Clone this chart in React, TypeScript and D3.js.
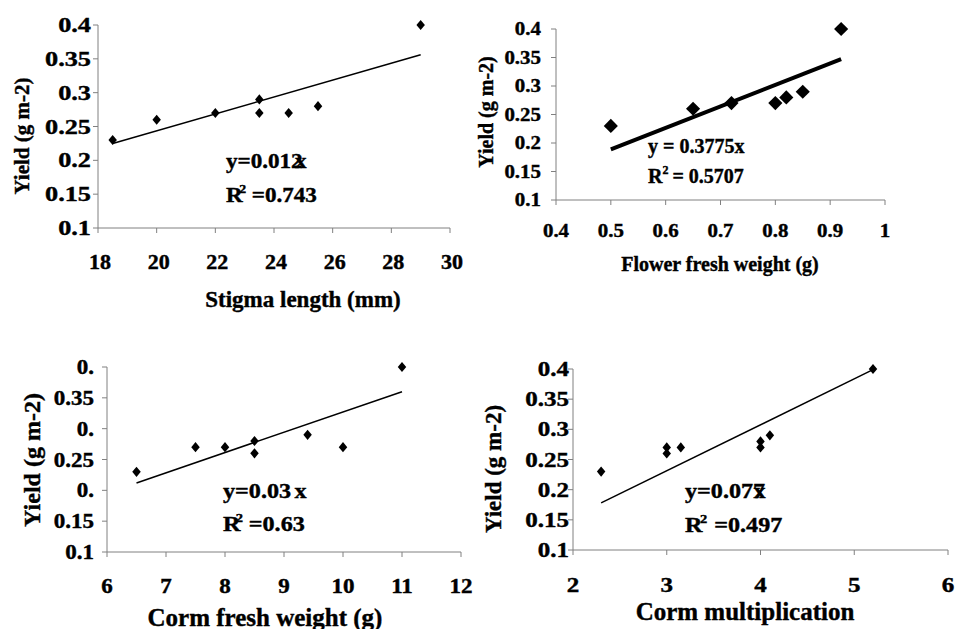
import React from 'react';
import * as d3 from 'd3';

const W = 955;
const H = 629;
const FONT = 'Liberation Serif';
const AXIS = '#808080';

// stigma length vs yield
const stigmaLength = [18.5, 20, 22, 23.5, 23.5, 24.5, 25.5, 29];
const stigmaYield = [0.23, 0.26, 0.27, 0.29, 0.27, 0.27, 0.28, 0.4];
const stigmaFit = [[18.5, 0.225], [29, 0.356]];
const stigmaTicks = [18, 20, 22, 24, 26, 28, 30];

// flower fresh weight vs yield
const flowerWeight = [0.5, 0.65, 0.72, 0.8, 0.82, 0.85, 0.92];
const flowerYield = [0.23, 0.26, 0.27, 0.27, 0.28, 0.29, 0.4];
const flowerFit = [[0.5, 0.189], [0.92, 0.347]];
const flowerTicks = [0.4, 0.5, 0.6, 0.7, 0.8, 0.9, 1];

// corm fresh weight vs yield
const cormWeight = [6.5, 7.5, 8, 8.5, 8.5, 9.4, 10, 11];
const cormYield = [0.23, 0.27, 0.27, 0.28, 0.26, 0.29, 0.27, 0.4];
const cormFit = [[6.5, 0.212], [11, 0.36]];
const cormTicks = [6, 7, 8, 9, 10, 11, 12];

// corm multiplication vs yield
const multiplication = [2.3, 3, 3, 3.15, 4, 4, 4.1, 5.2];
const multYield = [0.23, 0.26, 0.27, 0.27, 0.27, 0.28, 0.29, 0.4];
const multFit = [[2.3, 0.178], [5.2, 0.399]];
const multTicks = [2, 3, 4, 5, 6];

const yTicks = [0.1, 0.15, 0.2, 0.25, 0.3, 0.35, 0.4];
const yTickLabels = ['0.1', '0.15', '0.2', '0.25', '0.3', '0.35', '0.4'];
const yTickLabelsCut = ['0.1', '0.15', '0.', '0.25', '0.', '0.35', '0.'];

const Txt = ({x, y, size, sx = 1, anchor = 'start', rotate = 0, children}: any) => (
  <text
    transform={`translate(${x},${y}) rotate(${rotate}) scale(${sx},1)`}
    style={{fontFamily: FONT, fontWeight: 700, fontSize: size + 'px'}}
    textAnchor={anchor}
    fill="#000"
    stroke="#000"
    strokeWidth={0.4}>
    {children}
  </text>
);

const Panel = ({p}: any) => {
  const x = d3.scaleLinear().domain(d3.extent(p.xTicks) as any).range([p.left, p.right]);
  const y = d3.scaleLinear().domain([0.1, 0.4]).range([p.bottom, p.top]);
  const line = d3.line<number[]>().x(d => x(d[0])).y(d => y(d[1]));
  const sym = d3.symbol(d3.symbolSquare, p.markSize)();
  return (
    <g>
      <line x1={p.left} x2={p.left} y1={p.top} y2={p.bottom} stroke={AXIS} />
      <line x1={p.left} x2={p.right} y1={p.bottom} y2={p.bottom} stroke={AXIS} />
      {yTicks.map((t, i) => (
        <g key={'y' + i}>
          <line x1={p.left - 5} x2={p.left} y1={y(t)} y2={y(t)} stroke={AXIS} />
          <Txt x={p.left - p.yLabGap} y={y(t) + p.yLabDy} size={p.yTickSize} sx={p.ySx} anchor="end">
            {p.yLabels[i]}
          </Txt>
        </g>
      ))}
      {p.xTicks.map((t: number, i: number) => (
        <g key={'x' + i}>
          <line x1={x(t)} x2={x(t)} y1={p.bottom} y2={p.bottom + 5} stroke={AXIS} />
          <Txt x={x(t) + p.xLabDx} y={p.bottom + p.xLabDy} size={p.tickSize} sx={p.xSx} anchor="middle">
            {String(t)}
          </Txt>
        </g>
      ))}
      <path d={line(p.fit) as string} fill="none" stroke="#000" strokeWidth={p.lineW} />
      {p.xs.map((v: number, i: number) => (
        <path
          key={'m' + i}
          d={sym as string}
          transform={`translate(${x(v)},${y(p.ys[i])}) scale(1,${p.markTall}) rotate(45)`}
          fill="#000"
        />
      ))}
      <Txt x={p.title[0]} y={p.title[1]} size={p.titleSize} anchor="middle">{p.xTitle}</Txt>
      <Txt x={p.ylab[0]} y={p.ylab[1]} size={p.ylabSize} anchor="middle" rotate={-90}>Yield (g m-2)</Txt>
      <Txt x={p.eq[0]} y={p.eq[1]} size={p.eqSize} sx={p.eqSx}>
        {p.eq1}
      </Txt>
      <Txt x={p.eq[0]} y={p.eq[2]} size={p.eqSize} sx={p.eqSx}>
        <tspan>R</tspan>
        <tspan dx={p.supDx} dy={-9} style={{fontSize: p.eqSize * 0.6 + 'px'}}>2</tspan>
        <tspan dx={p.eqGap} dy={9}>{p.eq2}</tspan>
      </Txt>
    </g>
  );
};

const panels = [
  {
    left: 98, right: 450, top: 25, bottom: 228,
    xTicks: stigmaTicks, xs: stigmaLength, ys: stigmaYield, fit: stigmaFit,
    yLabels: yTickLabels, tickSize: 20, yTickSize: 21, ySx: 1.25, xSx: 1.1, yLabGap: 7, yLabDy: 7, xLabDx: 2, xLabDy: 41,
    markSize: 36, markTall: 1.2, lineW: 1.5,
    xTitle: 'Stigma length (mm)', title: [303, 307], titleSize: 23,
    ylab: [29, 136], ylabSize: 21,
    eq: [226, 168, 202], eqSize: 21, eqSx: 1.1,
    eq1: (<><tspan>y=0.012</tspan><tspan dx={-7}>x</tspan></>), supDx: -3, eqGap: 5, eq2: '=0.743',
  },
  {
    left: 556, right: 885, top: 29, bottom: 200,
    xTicks: flowerTicks, xs: flowerWeight, ys: flowerYield, fit: flowerFit,
    yLabels: yTickLabels, tickSize: 19, yTickSize: 19, ySx: 1.1, xSx: 1.1, yLabGap: 15, yLabDy: 6, xLabDx: 0, xLabDy: 37,
    markSize: 100, markTall: 1, lineW: 4,
    xTitle: 'Flower fresh weight (g)', title: [720, 271], titleSize: 20,
    ylab: [493, 112], ylabSize: 20,
    eq: [648, 153, 183], eqSize: 20, eqSx: 1,
    eq1: 'y = 0.3775x', supDx: 0, eqGap: 4, eq2: '= 0.5707',
  },
  {
    left: 107, right: 461, top: 367, bottom: 552,
    xTicks: cormTicks, xs: cormWeight, ys: cormYield, fit: cormFit,
    yLabels: yTickLabelsCut, tickSize: 20, yTickSize: 20, ySx: 1.15, xSx: 1.15, yLabGap: 13, yLabDy: 7, xLabDx: 0, xLabDy: 41,
    markSize: 36, markTall: 1.2, lineW: 1.5,
    xTitle: 'Corm fresh weight (g)', title: [265, 626], titleSize: 25,
    ylab: [40, 460], ylabSize: 24,
    eq: [223, 498, 531], eqSize: 21, eqSx: 1.15,
    eq1: (<><tspan>y=0.03</tspan><tspan dx={3}>x</tspan></>), supDx: -4, eqGap: 5, eq2: '=0.63',
  },
  {
    left: 573, right: 948, top: 369, bottom: 550,
    xTicks: multTicks, xs: multiplication, ys: multYield, fit: multFit,
    yLabels: yTickLabels, tickSize: 20, yTickSize: 20, ySx: 1.25, xSx: 1.25, yLabGap: 4, yLabDy: 7, xLabDx: 0, xLabDy: 42,
    markSize: 36, markTall: 1.2, lineW: 1.5,
    xTitle: 'Corm multiplication', title: [745, 620], titleSize: 25,
    ylab: [501, 469], ylabSize: 23,
    eq: [685, 498, 532], eqSize: 21, eqSx: 1.15,
    eq1: (<><tspan>y=0.077</tspan><tspan dx={-10}>x</tspan></>), supDx: -2, eqGap: 6, eq2: '=0.497',
  },
];

export default function App() {
  return (
    <svg width={W} height={H} style={{position: 'absolute', left: 0, top: 0, background: '#fff'}}>
      <rect width={W} height={H} fill="#fff" />
      {panels.map((p, i) => <Panel key={i} p={p} />)}
    </svg>
  );
}
